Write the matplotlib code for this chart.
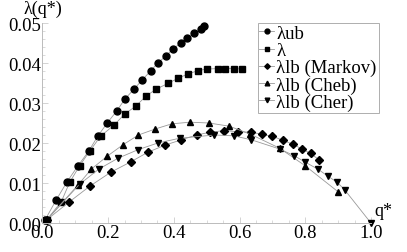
import matplotlib
matplotlib.use("Agg")
import matplotlib.pyplot as plt
from matplotlib.ticker import MultipleLocator

plt.rcParams["font.family"] = "serif"
plt.rcParams["font.serif"] = ["Liberation Serif", "DejaVu Serif"]

# data
q_ub = [0.008, 0.042, 0.074, 0.108, 0.141, 0.169, 0.197, 0.226, 0.251, 0.279,
        0.304, 0.329, 0.351, 0.375, 0.397, 0.421, 0.441, 0.462, 0.482, 0.493]
lam_ub = [0.0008, 0.0058, 0.0102, 0.0143, 0.018, 0.0218, 0.025, 0.028, 0.031, 0.0335,
          0.0358, 0.038, 0.040, 0.0417, 0.0435, 0.045, 0.0462, 0.0474, 0.0485, 0.0492]

q_lam = [0.013, 0.057, 0.083, 0.113, 0.144, 0.177, 0.218, 0.251, 0.284, 0.316,
         0.347, 0.382, 0.413, 0.444, 0.474, 0.500, 0.534, 0.556, 0.582, 0.608]
lam = [0.0008, 0.0053, 0.0102, 0.0143, 0.018, 0.0217, 0.0245, 0.0273, 0.0292, 0.0318,
       0.0335, 0.0349, 0.0362, 0.0373, 0.0381, 0.0385, 0.0386, 0.0386, 0.0386, 0.0385]

q_markov = [0.013, 0.082, 0.144, 0.208, 0.269, 0.321, 0.374, 0.423, 0.469, 0.51,
            0.554, 0.595, 0.636, 0.667, 0.70, 0.731, 0.762, 0.79, 0.816, 0.842]
lam_markov = [0.0008, 0.0053, 0.0092, 0.0127, 0.0153, 0.0177, 0.0195, 0.0208, 0.022, 0.0227,
              0.0231, 0.0228, 0.0227, 0.0222, 0.0217, 0.0207, 0.0197, 0.0185, 0.0174, 0.0158]

q_cheb = [0.013, 0.108, 0.149, 0.197, 0.244, 0.292, 0.343, 0.394, 0.449, 0.507,
          0.569, 0.633, 0.722, 0.80, 0.90]
lam_cheb = [0.0008, 0.0095, 0.0135, 0.0167, 0.0195, 0.022, 0.0235, 0.0248, 0.0252, 0.025,
            0.0242, 0.0222, 0.0187, 0.0143, 0.0078]

q_cher = [0.013, 0.113, 0.172, 0.23, 0.29, 0.351, 0.418, 0.523, 0.582, 0.636,
          0.722, 0.767, 0.80, 0.838, 0.869, 0.897, 0.92, 1.0]
lam_cher = [0.0008, 0.0097, 0.0135, 0.0162, 0.0183, 0.020, 0.0212, 0.022, 0.0218, 0.0208,
            0.0185, 0.0168, 0.0152, 0.0135, 0.0117, 0.0102, 0.0083, 0.0]

series = [
    (q_ub, lam_ub, "o", 5.0, "λub"),
    (q_lam, lam, "s", 4.3, "λ"),
    (q_markov, lam_markov, "D", 4.0, "λlb (Markov)"),
    (q_cheb, lam_cheb, "^", 4.8, "λlb (Cheb)"),
    (q_cher, lam_cher, "v", 4.8, "λlb (Cher)"),
]

fig = plt.figure(figsize=(4.07, 2.53), dpi=100)
ax = fig.add_axes([0.1044, 0.1146, 0.807, 0.7905])

for x, y, m, ms, lab in series:
    ax.plot(x, y, color="#999999", lw=0.6, marker=m, ms=ms,
            mfc="black", mec="black", label=lab, clip_on=False)

ax.set_xlim(0, 1.0)
ax.set_ylim(0, 0.05)
ax.xaxis.set_major_locator(MultipleLocator(0.2))
ax.xaxis.set_minor_locator(MultipleLocator(0.05))
ax.yaxis.set_major_locator(MultipleLocator(0.01))
ax.yaxis.set_minor_locator(MultipleLocator(0.002))
ax.xaxis.set_major_formatter(plt.FuncFormatter(lambda v, p: f"{v:.1f}"))
ax.yaxis.set_major_formatter(plt.FuncFormatter(lambda v, p: f"{v:.2f}"))

for s in ["top", "right"]:
    ax.spines[s].set_visible(False)
for s in ["left", "bottom"]:
    ax.spines[s].set_color("#bbbbbb")
    ax.spines[s].set_linewidth(0.7)
ax.tick_params(which="both", direction="in", color="#cccccc", labelsize=13.5, pad=1)
ax.tick_params(which="major", length=4, width=0.6)
ax.tick_params(which="minor", length=2, width=0.5)

ax.text(0.0, 1.03, "λ(q*)", transform=ax.transAxes, ha="center", va="bottom", fontsize=13)
ax.text(1.01, 0.02, "q*", transform=ax.transAxes, ha="left", va="bottom", fontsize=13)

leg = ax.legend(loc="upper left", bbox_to_anchor=(0.655, 1.0), fontsize=13.5,
                handlelength=0.8, handletextpad=0.1, borderpad=0.1,
                labelspacing=0.0, borderaxespad=0.0, fancybox=False, markerscale=0.7)
leg.get_frame().set_edgecolor("#999999")
leg.get_frame().set_linewidth(0.7)

fig.savefig("out.png", dpi=100)
